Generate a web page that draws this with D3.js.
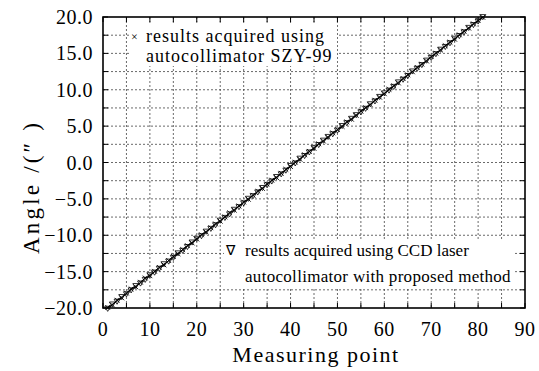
<!DOCTYPE html>
<html>
<head>
<meta charset="utf-8">
<script src="https://cdn.jsdelivr.net/npm/d3@7"></script>
<style>
  body { margin: 0; background: #fff; }
  svg text { font-family: "Liberation Serif", "Times New Roman", serif; }
</style>
</head>
<body>
<svg id="chart" width="539" height="371"></svg>
<script>
// measuring points 1..81
const points = d3.range(1, 82);

// results acquired using autocollimator SZY-99
const szyValues = [
  -19.92, -19.58, -18.93, -18.61, -17.95, -17.38, -17.10, -16.46, -15.88, -15.57,
  -14.96, -14.42, -14.08, -13.47, -12.91, -12.55, -11.97, -11.43, -11.06, -10.52,
  -9.93, -9.56, -8.97, -8.44, -8.07, -7.49, -6.92, -6.55, -5.98, -5.44,
  -5.06, -4.51, -3.93, -3.57, -2.96, -2.43, -2.07, -1.48, -0.94, -0.55,
  0.05, 0.44, 1.06, 1.53, 1.94, 2.57, 2.95, 3.46, 4.07, 4.52,
  4.95, 5.58, 5.94, 6.47, 7.06, 7.53, 7.94, 8.56, 8.97, 9.45,
  10.06, 10.52, 10.93, 11.55, 12.04, 12.46, 13.07, 13.52, 13.95, 14.56,
  15.03, 15.46, 16.05, 16.53, 16.94, 17.55, 18.04, 18.47, 19.06, 19.52,
  19.96
];

// results acquired using CCD laser autocollimator with proposed method
const ccdValues = [
  -20.05, -19.46, -19.07, -18.44, -18.06, -17.52, -16.93, -16.58, -16.07, -15.44,
  -15.08, -14.55, -13.93, -13.56, -13.05, -12.43, -12.08, -11.56, -10.94, -10.43,
  -10.07, -9.45, -9.06, -8.57, -7.94, -7.56, -7.07, -6.44, -6.08, -5.56,
  -4.93, -4.57, -4.06, -3.45, -3.07, -2.55, -1.94, -1.57, -1.06, -0.43,
  -0.07, 0.58, 0.95, 1.44, 2.07, 2.46, 3.06, 3.57, 3.94, 4.45,
  5.07, 5.46, 6.06, 6.56, 6.95, 7.44, 8.06, 8.45, 9.07, 9.56,
  9.94, 10.45, 11.07, 11.44, 11.95, 12.57, 12.94, 13.45, 14.06, 14.44,
  14.95, 15.56, 15.94, 16.45, 17.07, 17.44, 17.95, 18.56, 18.95, 19.44,
  20.04
];

const xTicks = [0, 10, 20, 30, 40, 50, 60, 70, 80, 90];
const yTicks = [-20, -15, -10, -5, 0, 5, 10, 15, 20];
const xGrid = d3.range(0, 91, 5);
const yGrid = d3.range(-20, 20.1, 2.5);

const svg = d3.select("#chart");
const plotL = 103, plotR = 525, plotT = 17, plotB = 308;
const serifStyle = "font-family: 'Liberation Serif', 'Times New Roman', serif";

const x = d3.scaleLinear().domain([0, 90]).range([plotL, plotR]);
const y = d3.scaleLinear().domain([-20, 20]).range([plotB, plotT]);

// grid
const grid = svg.append("g")
    .attr("stroke", "#444")
    .attr("stroke-width", 0.8)
    .attr("stroke-dasharray", "2,2");
grid.selectAll(".gx").data(xGrid.slice(1, -1)).join("line")
    .attr("x1", d => x(d)).attr("x2", d => x(d))
    .attr("y1", plotT).attr("y2", plotB);
grid.selectAll(".gy").data(yGrid.slice(1, -1)).join("line")
    .attr("x1", plotL).attr("x2", plotR)
    .attr("y1", d => y(d)).attr("y2", d => y(d));

// legend backgrounds
svg.append("rect").attr("x", 129).attr("y", 24).attr("width", 208).attr("height", 42).attr("fill", "#fff");
svg.append("rect").attr("x", 224).attr("y", 239).attr("width", 291).attr("height", 48).attr("fill", "#fff");

// ticks (inward, all four sides)
const tickLen = 5;
const ticks = svg.append("g").attr("stroke", "#000").attr("stroke-width", 1);
xGrid.forEach(d => {
    ticks.append("line").attr("x1", x(d)).attr("x2", x(d)).attr("y1", plotB).attr("y2", plotB - tickLen);
    ticks.append("line").attr("x1", x(d)).attr("x2", x(d)).attr("y1", plotT).attr("y2", plotT + tickLen);
});
yGrid.forEach(d => {
    ticks.append("line").attr("x1", plotL).attr("x2", plotL + tickLen).attr("y1", y(d)).attr("y2", y(d));
    ticks.append("line").attr("x1", plotR).attr("x2", plotR - tickLen).attr("y1", y(d)).attr("y2", y(d));
});

// frame
svg.append("rect")
    .attr("x", plotL).attr("y", plotT)
    .attr("width", plotR - plotL).attr("height", plotB - plotT)
    .attr("fill", "none").attr("stroke", "#000").attr("stroke-width", 1.6);

// tick labels
svg.append("g").selectAll("text").data(xTicks).join("text")
    .attr("x", d => x(d)).attr("y", 336)
    .attr("text-anchor", "middle")
    .attr("font-size", 20)
    .attr("letter-spacing", 0.5)
    .attr("style", serifStyle)
    .text(d => d);
svg.append("g").selectAll("text").data(yTicks).join("text")
    .attr("x", 93).attr("y", d => y(d))
    .attr("dy", "0.35em")
    .attr("text-anchor", "end")
    .attr("font-size", 20)
    .attr("letter-spacing", 0.5)
    .attr("style", serifStyle)
    .text(d => (d < 0 ? "\u2212" : "") + Math.abs(d).toFixed(1));

// axis titles
svg.append("text")
    .attr("x", 316).attr("y", 362)
    .attr("text-anchor", "middle")
    .attr("font-size", 22)
    .attr("letter-spacing", 1.5)
    .attr("style", serifStyle)
    .text("Measuring point");
svg.append("text")
    .attr("transform", "translate(39,254) rotate(-90)")
    .attr("font-size", 23)
    .attr("letter-spacing", 3.2)
    .attr("style", serifStyle)
    .text("Angle /(\u2033 )");

// data
const line = d3.line().x((d, i) => x(points[i])).y(d => y(d));
const data = svg.append("g");
data.append("path").datum(szyValues).attr("d", line)
    .attr("fill", "none").attr("stroke", "#000").attr("stroke-width", 1);
data.append("path").datum(ccdValues).attr("d", line)
    .attr("fill", "none").attr("stroke", "#000").attr("stroke-width", 0.8);

const s = 2.4;
data.selectAll(".cross").data(szyValues).join("path")
    .attr("d", (d, i) => {
        const cx = x(points[i]), cy = y(d);
        return `M${cx - s},${cy - s}L${cx + s},${cy + s}M${cx - s},${cy + s}L${cx + s},${cy - s}`;
    })
    .attr("stroke", "#000").attr("stroke-width", 0.9);
const t = 3;
data.selectAll(".tri").data(ccdValues).join("path")
    .attr("d", (d, i) => {
        const cx = x(points[i]), cy = y(d);
        return `M${cx - t},${cy - t * 0.7}L${cx + t},${cy - t * 0.7}L${cx},${cy + t}Z`;
    })
    .attr("fill", "none").attr("stroke", "#000").attr("stroke-width", 0.8);

// legends
const leg = svg.append("g");
leg.append("text").attr("x", 131).attr("y", 41).attr("font-size", 12).attr("style", serifStyle).text("\u00d7");
leg.append("text").attr("x", 146).attr("y", 42).attr("font-size", 18).attr("letter-spacing", 1).attr("style", serifStyle).text("results acquired using");
leg.append("text").attr("x", 146).attr("y", 62).attr("font-size", 18).attr("letter-spacing", 1).attr("style", serifStyle).text("autocollimator SZY-99");
leg.append("text").attr("x", 226).attr("y", 255).attr("font-size", 14).attr("style", serifStyle).text("\u2207");
leg.append("text").attr("x", 245).attr("y", 256).attr("font-size", 17).attr("style", serifStyle).text("results acquired using CCD laser");
leg.append("text").attr("x", 245).attr("y", 282).attr("font-size", 17).attr("letter-spacing", 0.3).attr("style", serifStyle).text("autocollimator with proposed method");
</script>
</body>
</html>
